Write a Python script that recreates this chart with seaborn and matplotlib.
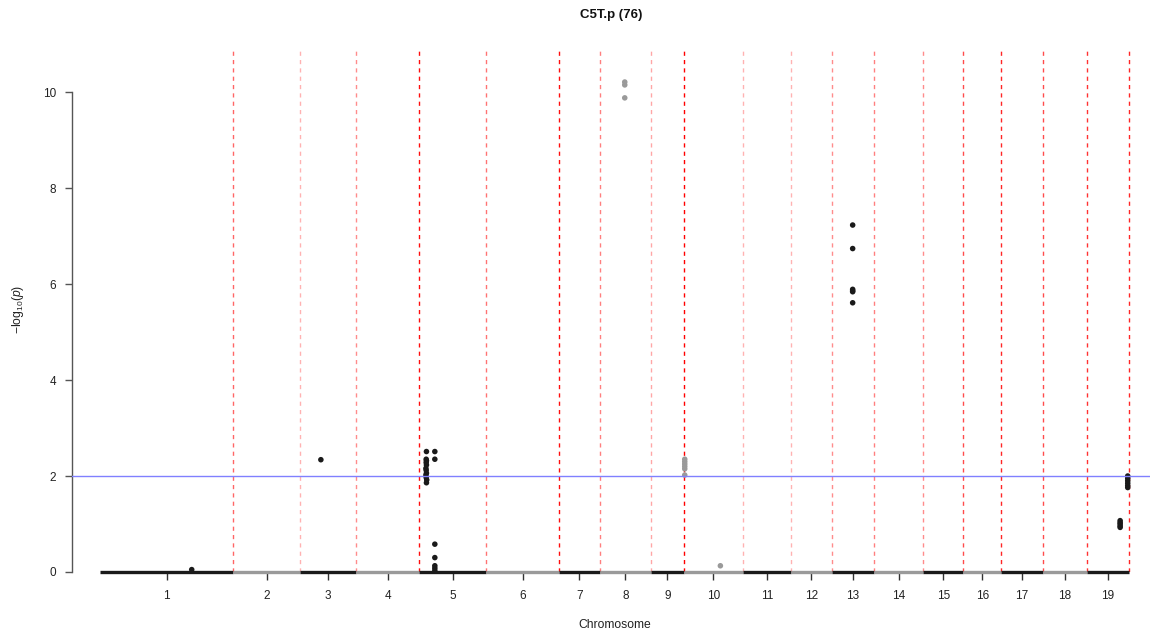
import numpy as np
import pandas as pd
import matplotlib
matplotlib.use("Agg")
import matplotlib.pyplot as plt
import seaborn as sns

# ---------------- data ----------------
chromosomes = [str(i) for i in range(1, 20)]
chrom_lengths_mb = [50.9, 25.3, 21.6, 24.0, 25.7, 27.7, 15.6, 19.4, 12.7, 22.4,
                    18.4, 15.6, 16.3, 18.6, 15.4, 14.4, 15.9, 16.8, 16.0]
# opacity of the dashed red line at the end of each chromosome
boundary_alpha = [0.6, 0.3, 0.45, 0.95, 0.55, 0.95, 0.5, 0.35, 1.0, 0.3,
                  0.3, 0.45, 0.5, 0.45, 0.7, 0.85, 0.7, 0.8, 0.85]

hit_chrom = (["1"] + ["3"] +
             ["5"] * 12 + ["5"] * 2 + ["5"] * 5 +
             ["8"] * 3 +
             ["10"] * 6 + ["10"] +
             ["13"] * 6 +
             ["19"] * 6 + ["19"] * 5)
hit_pos_mb = ([35.0] + [8.1] +
              [2.8, 2.7, 2.8, 2.7, 2.8, 2.6, 2.7, 2.8, 2.6, 2.7, 2.9, 2.8] +
              [6.0, 6.0] + [6.0, 6.0, 6.0, 6.0, 6.0] +
              [9.5, 9.5, 9.5] +
              [0.3, 0.3, 0.3, 0.3, 0.3, 0.3] + [13.9] +
              [8.0, 8.0, 8.0, 8.0, 8.0, 8.0] +
              [15.6, 15.6, 15.6, 15.6, 15.6, 15.6] + [12.7, 12.7, 12.7, 12.7, 12.7])
hit_logp = ([0.05] + [2.34] +
            [2.51, 2.35, 2.32, 2.28, 2.23, 2.16, 2.12, 2.06, 2.02, 1.97, 1.92, 1.86] +
            [2.51, 2.35] + [0.58, 0.30, 0.13, 0.08, 0.03] +
            [10.21, 10.15, 9.88] +
            [2.35, 2.30, 2.25, 2.20, 2.15, 2.02] + [0.13] +
            [7.23, 6.74, 5.89, 5.86, 5.84, 5.61] +
            [2.00, 1.95, 1.90, 1.85, 1.80, 1.76] + [1.07, 1.03, 1.00, 0.96, 0.93])

threshold = 2.0
y_ticks = [0, 2, 4, 6, 8, 10]
title = "C5T.p (76)"
x_label = "Chromosome"
y_label = r"$-\mathrm{log}_{10}(p)$"

# ---------------- derived table ----------------
chrom_df = pd.DataFrame({"chrom": chromosomes, "length": chrom_lengths_mb})
chrom_df["start"] = chrom_df["length"].cumsum() - chrom_df["length"]
chrom_df["end"] = chrom_df["length"].cumsum()
chrom_df["mid"] = (chrom_df["start"] + chrom_df["end"]) / 2
chrom_df["colour"] = ["odd" if i % 2 == 0 else "even" for i in range(len(chromosomes))]
offsets = dict(zip(chrom_df["chrom"], chrom_df["start"]))
col_of = dict(zip(chrom_df["chrom"], chrom_df["colour"]))

hits = pd.DataFrame({"chrom": hit_chrom, "pos": hit_pos_mb, "logp": hit_logp})
hits["x"] = hits["pos"] + hits["chrom"].map(offsets)
hits["colour"] = hits["chrom"].map(col_of)

palette = {"odd": "#1a1a1a", "even": "#9a9a9a"}

# ---------------- plot ----------------
sns.set_style("white")
plt.rcParams["font.family"] = ["Liberation Sans", "DejaVu Sans"]
plt.rcParams["mathtext.fontset"] = "custom"
plt.rcParams["mathtext.rm"] = "Liberation Sans"
plt.rcParams["mathtext.it"] = "Liberation Sans:italic"

W, H = 1156, 636
fig = plt.figure(figsize=(W / 100, H / 100), dpi=100)
ax = fig.add_axes([72 / W, 1 - 572 / H, (1150 - 72) / W, (572 - 47) / H])

total = chrom_df["end"].iloc[-1]
ax.set_xlim(-10.7, 400.8)
ax.set_ylim(0, 10.94)

# chromosome boundary lines
for end, a in zip(chrom_df["end"], boundary_alpha):
    ax.axvline(end, color="red", alpha=a, lw=1.0, linestyle=(0, (3, 3)), zorder=1)

# baseline of non-significant markers
for _, r in chrom_df.iterrows():
    ax.hlines(0, r["start"], r["end"], color=palette[r["colour"]], lw=2.4,
              zorder=2, clip_on=False)

sns.scatterplot(data=hits, x="x", y="logp", hue="colour", palette=palette,
                s=16, edgecolor="none", legend=False, ax=ax, zorder=3, clip_on=False)

ax.axhline(threshold, color="#8080ff", lw=1.0, zorder=4)

# axes styling
for s in ["top", "right", "bottom"]:
    ax.spines[s].set_visible(False)
ax.spines["left"].set_color("#555555")
ax.spines["left"].set_linewidth(1.0)
ax.spines["left"].set_bounds(0, 10)
ax.set_yticks(y_ticks)
ax.set_yticklabels([str(t) for t in y_ticks])
ax.set_xticks(chrom_df["mid"])
ax.set_xticklabels(chromosomes)
ax.tick_params(axis="y", length=5, width=1, color="#555555", pad=6.5,
               labelsize=8.5, labelcolor="#222222", left=True)
ax.tick_params(axis="x", length=5.8, width=1, color="#333333", pad=7,
               labelsize=8.5, labelcolor="#222222", bottom=True)
ax.set_xlabel("")
ax.set_ylabel("")

fig.text(611 / W, 1 - 15 / H, title, ha="center", va="center",
         fontsize=9.5, fontweight="bold", color="#111111")
fig.text(615 / W, 1 - 625 / H, x_label, ha="center", va="center",
         fontsize=8.7, color="#222222")
fig.text(18 / W, 1 - 309 / H, y_label, ha="center", va="center",
         rotation=90, fontsize=8.7, color="#222222")

fig.savefig("out.png", dpi=100)
